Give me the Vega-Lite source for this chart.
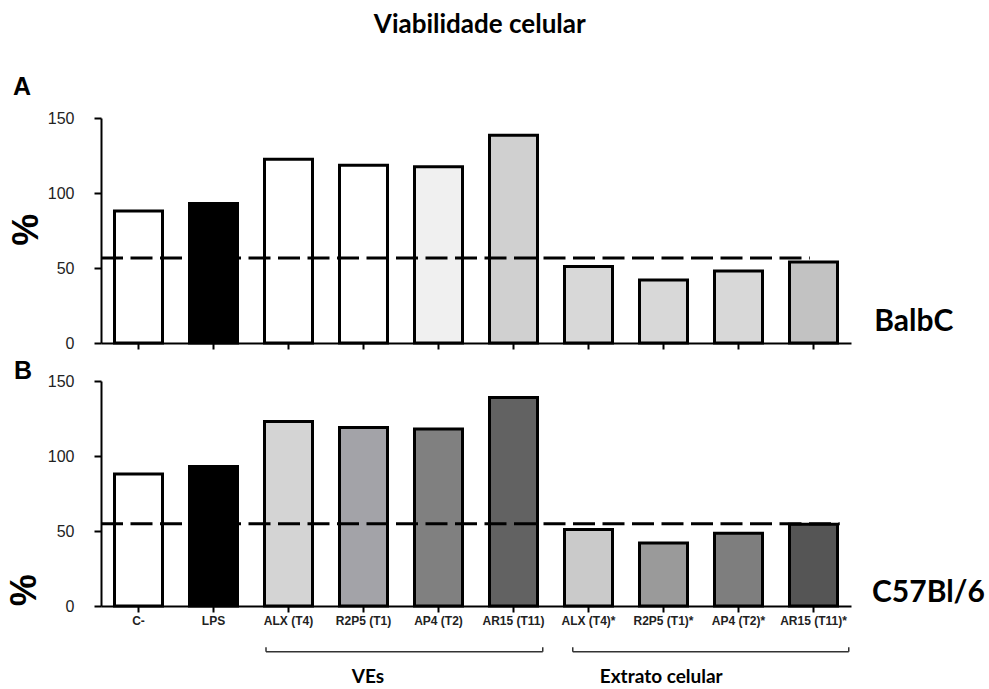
{
  "$schema": "https://vega.github.io/schema/vega-lite/v6.json",
  "background": "white",
  "padding": {"left": 6, "top": 11, "right": 0, "bottom": 0},
  "datasets": {
    "barras": [
      {"painel": "A", "condicao": "C-", "valor": 88},
      {"painel": "A", "condicao": "LPS", "valor": 93},
      {"painel": "A", "condicao": "ALX (T4)", "valor": 122.5},
      {"painel": "A", "condicao": "R2P5 (T1)", "valor": 118.5},
      {"painel": "A", "condicao": "AP4 (T2)", "valor": 117.5},
      {"painel": "A", "condicao": "AR15 (T11)", "valor": 138.5},
      {"painel": "A", "condicao": "ALX (T4)*", "valor": 51},
      {"painel": "A", "condicao": "R2P5 (T1)*", "valor": 42},
      {"painel": "A", "condicao": "AP4 (T2)*", "valor": 48},
      {"painel": "A", "condicao": "AR15 (T11)*", "valor": 54},
      {"painel": "B", "condicao": "C-", "valor": 88},
      {"painel": "B", "condicao": "LPS", "valor": 93},
      {"painel": "B", "condicao": "ALX (T4)", "valor": 123},
      {"painel": "B", "condicao": "R2P5 (T1)", "valor": 119},
      {"painel": "B", "condicao": "AP4 (T2)", "valor": 118},
      {"painel": "B", "condicao": "AR15 (T11)", "valor": 139},
      {"painel": "B", "condicao": "ALX (T4)*", "valor": 51},
      {"painel": "B", "condicao": "R2P5 (T1)*", "valor": 42},
      {"painel": "B", "condicao": "AP4 (T2)*", "valor": 48.5},
      {"painel": "B", "condicao": "AR15 (T11)*", "valor": 54.5}
    ]
  },
  "spacing": 38,
  "bounds": "flush",
  "vconcat": [
    {
      "width": 750,
      "height": 225,
      "layer": [
        {
          "data": {"name": "barras"},
          "transform": [{"filter": "datum.painel === 'A'"}],
          "mark": {"type": "bar", "stroke": "black", "strokeWidth": 3},
          "encoding": {
            "x": {"field": "condicao", "type": "nominal", "sort": null,
                  "scale": {"paddingInner": 0.36, "paddingOuter": 0.18},
                  "axis": {"title": null, "labels": false, "tickSize": 6}},
            "y": {"field": "valor", "type": "quantitative",
                  "scale": {"domain": [0, 150], "nice": false},
                  "axis": {"title": null, "values": [0, 50, 100, 150]}},
            "fill": {"field": "condicao", "type": "nominal", "legend": null,
                     "scale": {"domain": ["C-", "LPS", "ALX (T4)", "R2P5 (T1)", "AP4 (T2)", "AR15 (T11)", "ALX (T4)*", "R2P5 (T1)*", "AP4 (T2)*", "AR15 (T11)*"],
                               "range": ["#ffffff", "#000000", "#ffffff", "#ffffff", "#f0f0f0", "#d0d0d0", "#d8d8d8", "#d8d8d8", "#d8d8d8", "#c2c2c2"]}}
          }
        },
        {
          "data": {"values": [{}]},
          "layer": [
            {
              "mark": {"type": "rule", "color": "black", "strokeWidth": 3, "strokeDash": [22, 7.5]},
              "encoding": {
                "x": {"datum": 0, "type": "quantitative", "scale": {"domain": [0, 10], "nice": false, "zero": false}, "axis": null},
                "x2": {"datum": 9.45},
                "y": {"datum": 56.7, "type": "quantitative", "title": null}
              }
            },
            {
              "mark": {"type": "text", "text": "Viabilidade celular", "font": "Lato", "fontWeight": "bold", "fontSize": 26, "align": "center", "baseline": "alphabetic", "color": "black"},
              "encoding": {
                "x": {"datum": 5.05, "type": "quantitative", "scale": {"domain": [0, 10], "nice": false, "zero": false}, "axis": null},
                "y": {"datum": 206.7, "type": "quantitative", "title": null}
              }
            },
            {
              "mark": {"type": "text", "text": "A", "font": "Liberation Sans", "fontWeight": "bold", "fontSize": 25, "align": "left", "baseline": "alphabetic", "color": "black"},
              "encoding": {
                "x": {"datum": -1.173, "type": "quantitative", "scale": {"domain": [0, 10], "nice": false, "zero": false}, "axis": null},
                "y": {"datum": 165.5, "type": "quantitative", "title": null}
              }
            },
            {
              "mark": {"type": "text", "text": "%", "font": "Liberation Sans", "fontWeight": "bold", "fontSize": 36, "angle": 270, "align": "center", "baseline": "alphabetic", "color": "black"},
              "encoding": {
                "x": {"datum": -0.84, "type": "quantitative", "scale": {"domain": [0, 10], "nice": false, "zero": false}, "axis": null},
                "y": {"datum": 75.5, "type": "quantitative", "title": null}
              }
            },
            {
              "mark": {"type": "text", "text": "BalbC", "font": "Lato", "fontWeight": "bold", "fontSize": 30, "align": "left", "baseline": "alphabetic", "color": "black"},
              "encoding": {
                "x": {"datum": 10.31, "type": "quantitative", "scale": {"domain": [0, 10], "nice": false, "zero": false}, "axis": null},
                "y": {"datum": 7.7, "type": "quantitative", "title": null}
              }
            }
          ]
        }
      ],
      "resolve": {"scale": {"x": "independent"}, "axis": {"x": "independent"}}
    },
    {
      "width": 750,
      "height": 225,
      "layer": [
        {
          "data": {"name": "barras"},
          "transform": [{"filter": "datum.painel === 'B'"}],
          "mark": {"type": "bar", "stroke": "black", "strokeWidth": 3},
          "encoding": {
            "x": {"field": "condicao", "type": "nominal", "sort": null,
                  "scale": {"paddingInner": 0.36, "paddingOuter": 0.18},
                  "axis": {"title": null, "labelAngle": 0, "tickSize": 6, "labelPadding": 3,
                           "labelFont": "Liberation Sans", "labelFontWeight": "bold", "labelFontSize": 12, "labelColor": "#222"}},
            "y": {"field": "valor", "type": "quantitative",
                  "scale": {"domain": [0, 150], "nice": false},
                  "axis": {"title": null, "values": [0, 50, 100, 150]}},
            "fill": {"field": "condicao", "type": "nominal", "legend": null,
                     "scale": {"domain": ["C-", "LPS", "ALX (T4)", "R2P5 (T1)", "AP4 (T2)", "AR15 (T11)", "ALX (T4)*", "R2P5 (T1)*", "AP4 (T2)*", "AR15 (T11)*"],
                               "range": ["#ffffff", "#000000", "#d4d4d4", "#a3a3a8", "#808080", "#626262", "#cacaca", "#9a9a9a", "#7e7e7e", "#555555"]}}
          }
        },
        {
          "data": {"values": [{}]},
          "layer": [
            {
              "mark": {"type": "rule", "color": "black", "strokeWidth": 3, "strokeDash": [22, 7.5]},
              "encoding": {
                "x": {"datum": 0, "type": "quantitative", "scale": {"domain": [0, 10], "nice": false, "zero": false}, "axis": null},
                "x2": {"datum": 9.85},
                "y": {"datum": 54.9, "type": "quantitative", "title": null}
              }
            },
            {
              "mark": {"type": "text", "text": "B", "font": "Liberation Sans", "fontWeight": "bold", "fontSize": 25, "align": "left", "baseline": "alphabetic", "color": "black"},
              "encoding": {
                "x": {"datum": -1.16, "type": "quantitative", "scale": {"domain": [0, 10], "nice": false, "zero": false}, "axis": null},
                "y": {"datum": 151.5, "type": "quantitative", "title": null}
              }
            },
            {
              "mark": {"type": "text", "text": "%", "font": "Liberation Sans", "fontWeight": "bold", "fontSize": 36, "angle": 270, "align": "center", "baseline": "alphabetic", "color": "black"},
              "encoding": {
                "x": {"datum": -0.867, "type": "quantitative", "scale": {"domain": [0, 10], "nice": false, "zero": false}, "axis": null},
                "y": {"datum": 10.5, "type": "quantitative", "title": null}
              }
            },
            {
              "mark": {"type": "text", "text": "C57Bl/6", "font": "Lato", "fontWeight": "bold", "fontSize": 30, "align": "left", "baseline": "alphabetic", "color": "black"},
              "encoding": {
                "x": {"datum": 10.28, "type": "quantitative", "scale": {"domain": [0, 10], "nice": false, "zero": false}, "axis": null},
                "y": {"datum": 2.67, "type": "quantitative", "title": null}
              }
            },
            {
              "mark": {"type": "rule", "color": "#333", "strokeWidth": 1.5},
              "encoding": {
                "x": {"datum": 2.2, "type": "quantitative", "scale": {"domain": [0, 10], "nice": false, "zero": false}, "axis": null},
                "x2": {"datum": 5.89},
                "y": {"datum": -30.5, "type": "quantitative", "title": null}
              }
            },
            {
              "mark": {"type": "rule", "color": "#333", "strokeWidth": 1.5},
              "encoding": {
                "x": {"datum": 6.29, "type": "quantitative", "scale": {"domain": [0, 10], "nice": false, "zero": false}, "axis": null},
                "x2": {"datum": 9.97},
                "y": {"datum": -30.5, "type": "quantitative", "title": null}
              }
            },
            {
              "mark": {"type": "rule", "color": "#333", "strokeWidth": 1.5},
              "encoding": {
                "x": {"datum": 2.2, "type": "quantitative", "scale": {"domain": [0, 10], "nice": false, "zero": false}, "axis": null},
                "y": {"datum": -30.5, "type": "quantitative", "title": null},
                "y2": {"datum": -27.5}
              }
            },
            {
              "mark": {"type": "rule", "color": "#333", "strokeWidth": 1.5},
              "encoding": {
                "x": {"datum": 5.89, "type": "quantitative", "scale": {"domain": [0, 10], "nice": false, "zero": false}, "axis": null},
                "y": {"datum": -30.5, "type": "quantitative", "title": null},
                "y2": {"datum": -27.5}
              }
            },
            {
              "mark": {"type": "rule", "color": "#333", "strokeWidth": 1.5},
              "encoding": {
                "x": {"datum": 6.29, "type": "quantitative", "scale": {"domain": [0, 10], "nice": false, "zero": false}, "axis": null},
                "y": {"datum": -30.5, "type": "quantitative", "title": null},
                "y2": {"datum": -27.5}
              }
            },
            {
              "mark": {"type": "rule", "color": "#333", "strokeWidth": 1.5},
              "encoding": {
                "x": {"datum": 9.97, "type": "quantitative", "scale": {"domain": [0, 10], "nice": false, "zero": false}, "axis": null},
                "y": {"datum": -30.5, "type": "quantitative", "title": null},
                "y2": {"datum": -27.5}
              }
            },
            {
              "mark": {"type": "text", "text": "VEs", "font": "Lato", "fontWeight": "bold", "fontSize": 19, "align": "center", "baseline": "alphabetic", "color": "black"},
              "encoding": {
                "x": {"datum": 3.56, "type": "quantitative", "scale": {"domain": [0, 10], "nice": false, "zero": false}, "axis": null},
                "y": {"datum": -51, "type": "quantitative", "title": null}
              }
            },
            {
              "mark": {"type": "text", "text": "Extrato celular", "font": "Lato", "fontWeight": "bold", "fontSize": 19, "align": "center", "baseline": "alphabetic", "color": "black"},
              "encoding": {
                "x": {"datum": 7.47, "type": "quantitative", "scale": {"domain": [0, 10], "nice": false, "zero": false}, "axis": null},
                "y": {"datum": -51, "type": "quantitative", "title": null}
              }
            }
          ]
        }
      ],
      "resolve": {"scale": {"x": "independent"}, "axis": {"x": "independent"}}
    }
  ],
  "resolve": {"scale": {"fill": "independent"}},
  "config": {
    "view": {"stroke": null},
    "axis": {
      "grid": false,
      "domainColor": "black",
      "domainWidth": 2,
      "tickColor": "black",
      "tickWidth": 2,
      "labelColor": "#222",
      "labelFont": "Liberation Sans"
    },
    "axisY": {
      "tickSize": 7,
      "labelPadding": 20,
      "labelFontSize": 16
    }
  }
}
